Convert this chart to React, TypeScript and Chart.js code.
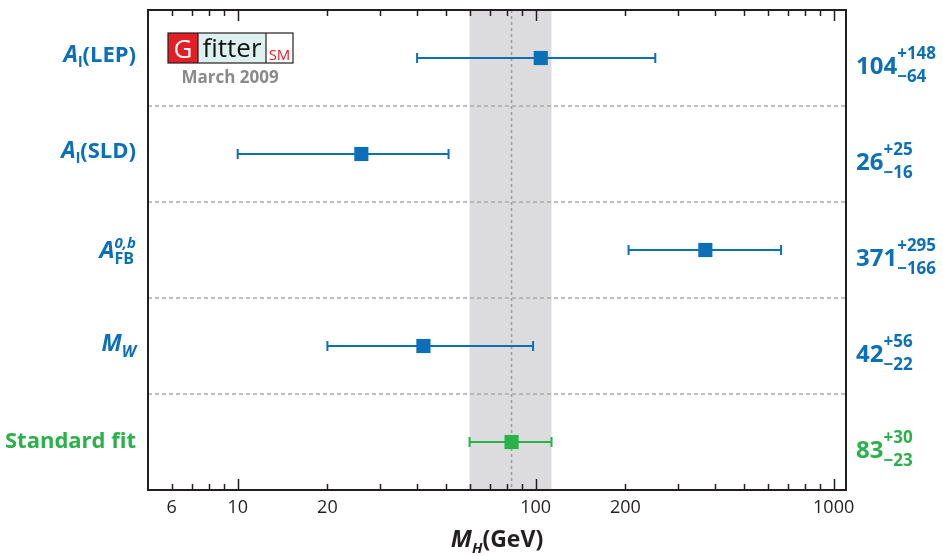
import React, { useEffect, useRef } from 'react';
import { Chart, registerables } from 'chart.js';

Chart.register(...registerables);

// ---- data ----
const rowKeys = ['LEP', 'SLD', 'AFB', 'MW', 'FIT'];
const centralValues = [104, 26, 371, 42, 83];
const errorsPlus = [148, 25, 295, 56, 30];
const errorsMinus = [64, 16, 166, 22, 23];
const majorTicks = [10, 100, 1000];
const minorTicks = [6, 7, 8, 9, 20, 30, 40, 50, 60, 70, 80, 90, 200, 300, 400, 500, 600, 700, 800, 900];
const tickLabels = [6, 10, 20, 100, 200, 1000];
const xMin = 5;
const xMax = 1100;

const F = "'Open Sans', 'Noto Sans', sans-serif";
const BLUE = '#0b70b8';
const GREEN = '#29b14a';
const INK = '#231f20';

type Seg = { t?: string; font?: string; dy?: number; sup?: Seg; sub?: Seg };

function segWidth(ctx: CanvasRenderingContext2D, s: Seg): number {
  if (s.sup || s.sub) {
    let w = 0;
    if (s.sup) { ctx.font = s.sup.font!; w = Math.max(w, ctx.measureText(s.sup.t!).width); }
    if (s.sub) { ctx.font = s.sub.font!; w = Math.max(w, ctx.measureText(s.sub.t!).width); }
    return w;
  }
  ctx.font = s.font!;
  return ctx.measureText(s.t!).width;
}

function drawRun(ctx: CanvasRenderingContext2D, segs: Seg[], x: number, y: number, align: 'left' | 'right' | 'center', color: string) {
  const widths = segs.map((s) => segWidth(ctx, s));
  const total = widths.reduce((a, b) => a + b, 0);
  let cx = align === 'left' ? x : align === 'right' ? x - total : x - total / 2;
  ctx.fillStyle = color;
  ctx.textAlign = 'left';
  ctx.textBaseline = 'alphabetic';
  segs.forEach((s, i) => {
    if (s.sup || s.sub) {
      if (s.sup) { ctx.font = s.sup.font!; ctx.fillText(s.sup.t!, cx, y + (s.sup.dy || 0)); }
      if (s.sub) { ctx.font = s.sub.font!; ctx.fillText(s.sub.t!, cx, y + (s.sub.dy || 0)); }
    } else {
      ctx.font = s.font!;
      ctx.fillText(s.t!, cx, y + (s.dy || 0));
    }
    cx += widths[i];
  });
}

function rowLabel(key: string): { segs: Seg[]; base: number } {
  switch (key) {
    case 'LEP':
      return { segs: [{ t: 'A', font: `italic bold 23px ${F}` }, { t: 'l', font: `bold 15px ${F}`, dy: 5 }, { t: '(LEP)', font: `bold 22px ${F}` }], base: 4 };
    case 'SLD':
      return { segs: [{ t: 'A', font: `italic bold 23px ${F}` }, { t: 'l', font: `bold 15px ${F}`, dy: 5 }, { t: '(SLD)', font: `bold 22px ${F}` }], base: 4 };
    case 'AFB':
      return {
        segs: [
          { t: 'A', font: `italic bold 24px ${F}` },
          { sup: { t: '0,b', font: `italic bold 15px ${F}`, dy: -10 }, sub: { t: 'FB', font: `bold 16px ${F}`, dy: 6 } },
        ],
        base: 8,
      };
    case 'MW':
      return { segs: [{ t: 'M', font: `italic bold 23px ${F}` }, { t: 'W', font: `italic bold 16px ${F}`, dy: 6 }], base: 5 };
    default:
      return { segs: [{ t: 'Standard fit', font: `bold 22px ${F}` }], base: 6 };
  }
}

const customPlugin = {
  id: 'gfitterDecor',
  beforeDatasetsDraw(chart: any) {
    const { ctx, chartArea: a, scales } = chart;
    const x = scales.x;
    const y = scales.y;
    const fi = centralValues.length - 1;
    ctx.save();
    // band of the standard fit
    const lo = x.getPixelForValue(centralValues[fi] - errorsMinus[fi]);
    const hi = x.getPixelForValue(centralValues[fi] + errorsPlus[fi]);
    ctx.fillStyle = '#dcdcde';
    ctx.fillRect(lo, a.top, hi - lo, a.bottom - a.top);
    // central dotted line
    const cx = x.getPixelForValue(centralValues[fi]);
    ctx.strokeStyle = '#9c9c9c';
    ctx.lineWidth = 1.5;
    ctx.setLineDash([3, 3]);
    ctx.beginPath();
    ctx.moveTo(cx, a.top);
    ctx.lineTo(cx, a.bottom);
    ctx.stroke();
    // row separators
    ctx.strokeStyle = '#a9a9a9';
    ctx.lineWidth = 1.3;
    ctx.setLineDash([4, 3]);
    for (let i = 0; i < centralValues.length - 1; i++) {
      const yy = y.getPixelForValue(i + 0.5);
      ctx.beginPath();
      ctx.moveTo(a.left, yy);
      ctx.lineTo(a.right, yy);
      ctx.stroke();
    }
    ctx.setLineDash([]);
    // error bars
    centralValues.forEach((v, i) => {
      const col = i === fi ? GREEN : BLUE;
      const yy = y.getPixelForValue(i);
      const l = x.getPixelForValue(v - errorsMinus[i]);
      const r = x.getPixelForValue(v + errorsPlus[i]);
      ctx.strokeStyle = col;
      ctx.lineWidth = 2;
      ctx.beginPath();
      ctx.moveTo(l, yy);
      ctx.lineTo(r, yy);
      ctx.moveTo(l, yy - 5);
      ctx.lineTo(l, yy + 5);
      ctx.moveTo(r, yy - 5);
      ctx.lineTo(r, yy + 5);
      ctx.stroke();
    });
    ctx.restore();
  },
  afterDatasetsDraw(chart: any) {
    const { ctx, chartArea: a, scales } = chart;
    const x = scales.x;
    const y = scales.y;
    const fi = centralValues.length - 1;
    ctx.save();
    // frame
    ctx.strokeStyle = INK;
    ctx.lineWidth = 2;
    ctx.strokeRect(a.left, a.top, a.right - a.left, a.bottom - a.top);
    // ticks (inward, top and bottom)
    ctx.lineWidth = 1.5;
    ctx.beginPath();
    const drawTick = (v: number, len: number) => {
      const px = Math.round(x.getPixelForValue(v)) + 0.5;
      ctx.moveTo(px, a.bottom);
      ctx.lineTo(px, a.bottom - len);
      ctx.moveTo(px, a.top);
      ctx.lineTo(px, a.top + len);
    };
    majorTicks.forEach((v) => drawTick(v, 11));
    minorTicks.forEach((v) => drawTick(v, 6));
    ctx.stroke();
    // tick labels
    ctx.fillStyle = INK;
    ctx.font = `18px ${F}`;
    ctx.textAlign = 'center';
    ctx.textBaseline = 'alphabetic';
    tickLabels.forEach((v) => {
      ctx.fillText(String(v), x.getPixelForValue(v), a.bottom + 23);
    });
    // axis title
    drawRun(
      ctx,
      [
        { t: 'M', font: `italic bold 24px ${F}` },
        { t: 'H', font: `italic bold 15px ${F}`, dy: 6 },
        { t: '(GeV)', font: `bold 23px ${F}` },
      ],
      (a.left + a.right) / 2,
      a.bottom + 57,
      'center',
      INK
    );
    // row labels (left) and values (right)
    rowKeys.forEach((k, i) => {
      const yy = y.getPixelForValue(i);
      const col = i === fi ? GREEN : BLUE;
      const lab = rowLabel(k);
      drawRun(ctx, lab.segs, a.left - 12, yy + lab.base, 'right', col);
      drawRun(
        ctx,
        [
          { t: String(centralValues[i]), font: `bold 24px ${F}` },
          {
            sup: { t: '+' + errorsPlus[i], font: `bold 17px ${F}`, dy: -15 },
            sub: { t: '\u2212' + errorsMinus[i], font: `bold 17px ${F}`, dy: 8 },
          },
        ],
        a.right + 10,
        yy + 16,
        'left',
        col
      );
    });
    // Gfitter logo
    const gx = a.left + 20;
    const gy = a.top + 23;
    const h = 30;
    ctx.fillStyle = '#e41e26';
    ctx.fillRect(gx, gy, 30, h);
    ctx.fillStyle = '#dff0f0';
    ctx.fillRect(gx + 30, gy, 68, h);
    ctx.fillStyle = '#ffffff';
    ctx.fillRect(gx + 98, gy, 27, h);
    ctx.strokeStyle = INK;
    ctx.lineWidth = 1.2;
    ctx.strokeRect(gx, gy, 125, h);
    ctx.beginPath();
    ctx.moveTo(gx + 30, gy);
    ctx.lineTo(gx + 30, gy + h);
    ctx.moveTo(gx + 98, gy);
    ctx.lineTo(gx + 98, gy + h);
    ctx.stroke();
    ctx.textAlign = 'center';
    ctx.textBaseline = 'alphabetic';
    ctx.fillStyle = '#ffffff';
    ctx.font = `26px ${F}`;
    ctx.fillText('G', gx + 15, gy + 25);
    ctx.fillStyle = '#111111';
    ctx.font = `26px ${F}`;
    ctx.fillText('fitter', gx + 64, gy + 24);
    ctx.fillStyle = '#e41e26';
    ctx.font = `15px ${F}`;
    ctx.fillText('SM', gx + 111.5, gy + 27);
    ctx.fillStyle = '#8a8a8c';
    ctx.font = `bold 17px ${F}`;
    ctx.fillText('March 2009', gx + 62, gy + 50);
    ctx.restore();
  },
};

export default function App() {
  const canvasRef = useRef<HTMLCanvasElement | null>(null);
  useEffect(() => {
    if (!canvasRef.current) return;
    const chart = new Chart(canvasRef.current, {
      type: 'scatter',
      data: {
        datasets: [
          {
            label: 'M_H',
            data: centralValues.map((v, i) => ({ x: v, y: i })),
            pointStyle: 'rect',
            pointRadius: 10,
            pointHoverRadius: 10,
            pointBorderWidth: 0,
            pointBackgroundColor: centralValues.map((_, i) => (i === centralValues.length - 1 ? GREEN : BLUE)),
            pointBorderColor: centralValues.map((_, i) => (i === centralValues.length - 1 ? GREEN : BLUE)),
            showLine: false,
          },
        ],
      },
      options: {
        responsive: false,
        devicePixelRatio: 1,
        animation: false,
        layout: { padding: { left: 148, right: 97, top: 8, bottom: 66 } },
        plugins: { legend: { display: false }, tooltip: { enabled: false } },
        scales: {
          x: { type: 'logarithmic', min: xMin, max: xMax, display: false },
          y: { type: 'linear', min: -0.5, max: rowKeys.length - 0.5, reverse: true, display: false },
        },
      },
      plugins: [customPlugin],
    });
    return () => chart.destroy();
  }, []);
  return (
    <div style={{ position: 'absolute', left: 0, top: 0, width: 943, height: 556, background: '#fff' }}>
      <canvas ref={canvasRef} width={943} height={556} style={{ display: 'block' }} />
    </div>
  );
}
